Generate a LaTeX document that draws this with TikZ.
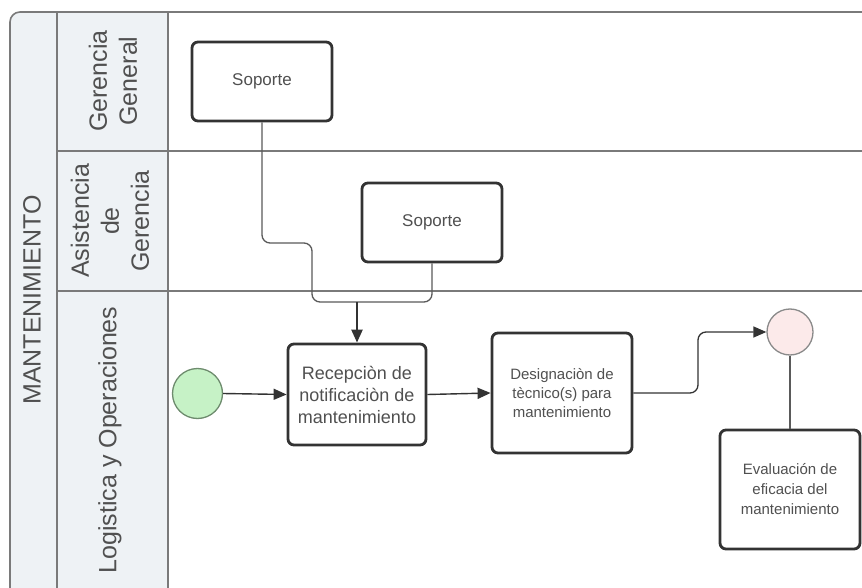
\documentclass[tikz,border=0pt]{standalone}
\usepackage{fontspec}
\setmainfont{Liberation Sans}
\usetikzlibrary{arrows.meta}

\definecolor{lanefill}{HTML}{EEF2F5}
\definecolor{laneline}{HTML}{7A7A7A}
\definecolor{boxline}{HTML}{333333}
\definecolor{txt}{HTML}{505050}
\definecolor{conline}{HTML}{5A5A5A}
\definecolor{startfill}{HTML}{C6F2C6}
\definecolor{startline}{HTML}{6E8C6E}
\definecolor{endfill}{HTML}{FCEAEA}
\definecolor{endline}{HTML}{8A8A8A}

\tikzset{
  task/.style={draw=boxline, line width=2.8pt, rounded corners=6pt, fill=white,
    text=txt, align=center, inner sep=0pt},
  lanelabel/.style={rotate=90, text=txt, align=center,
    font=\fontsize{25}{30}\selectfont},
  conn/.style={draw=conline, line width=1.3pt, rounded corners=8pt},
  arr/.style={draw=boxline, line width=1.4pt,
    -{Triangle[length=13pt,width=11pt]}},
}

\begin{document}
\begin{tikzpicture}[x=1pt, y=-1pt]
  \useasboundingbox (0,0) rectangle (862,588);

  % pool and lane header columns
  \fill[lanefill, rounded corners=10pt] (10,12) rectangle (220,640);
  \fill[white] (168,12) rectangle (880,640);
  \draw[laneline, line width=1.6pt, rounded corners=10pt]
    (10,640) -- (10,12) -- (880,12);
  \draw[laneline, line width=1.3pt] (57,12) -- (57,640);
  \draw[laneline, line width=1.6pt] (168,12) -- (168,640);
  \draw[laneline, line width=1.6pt] (57,151) -- (880,151);
  \draw[laneline, line width=1.6pt] (57,291) -- (880,291);

  % pool and lane titles
  \node[lanelabel] (pool) at (32,300) {MANTENIMIENTO};
  \node[lanelabel] (lane1) at (113,81) {Gerencia\\General};
  \node[lanelabel] (lane2) at (110,221) {Asistencia\\de\\Gerencia};
  \node[lanelabel] (lane3) at (110,440) {Logistica y Operaciones};

  % tasks
  \node[task, minimum width=140pt, minimum height=79pt,
        font=\fontsize{17}{21}\selectfont] (s1) at (262,81.5) {Soporte};
  \node[task, minimum width=140pt, minimum height=79pt,
        font=\fontsize{17}{21}\selectfont] (s2) at (432,222.5) {Soporte};
  \node[task, minimum width=138pt, minimum height=101pt,
        font=\fontsize{18}{22}\selectfont] (rec) at (357,394.5)
        {Recepciòn de\\notificaciòn de\\mantenimiento};
  \node[task, minimum width=140pt, minimum height=120pt,
        font=\fontsize{15}{19}\selectfont] (des) at (562,393)
        {Designaciòn de\\tècnico(s) para\\mantenimiento};
  \node[task, minimum width=140pt, minimum height=119pt,
        font=\fontsize{15}{20}\selectfont] (eva) at (790,489.5)
        {Evaluación de\\eficacia del\\mantenimiento};

  % events
  \node[circle, draw=startline, fill=startfill, line width=1.3pt,
        minimum size=50pt, inner sep=0pt] (start) at (197.5,393.5) {};
  \node[circle, draw=endline, fill=endfill, line width=1.3pt,
        minimum size=46pt, inner sep=0pt] (stop) at (790,332) {};

  % joint of the two support flows
  \coordinate (j1) at (262,243);
  \coordinate (j2) at (312,243);
  \coordinate (j3) at (312,302);
  \coordinate (j4) at (432,302);
  \coordinate (merge) at (357,302);
  \draw[conn] (s1.south) -- (j1) -- (j2) -- (j3) -- (j4) -- (s2.south);
  \draw[arr, line width=2.4pt] (merge) -- (rec.north);

  % sequence flows
  \draw[arr] (start.east) -- (rec.west);
  \draw[arr] (rec.east) -- (des.west);
  \coordinate (k1) at (698,393);
  \coordinate (k2) at (698,332);
  \draw[conn, -{Triangle[length=13pt,width=11pt]}, draw=boxline]
    (des.east) -- (k1) -- (k2) -- (stop.west);
  \draw[conn] (stop.south) -- (eva.north);
\end{tikzpicture}
\end{document}
